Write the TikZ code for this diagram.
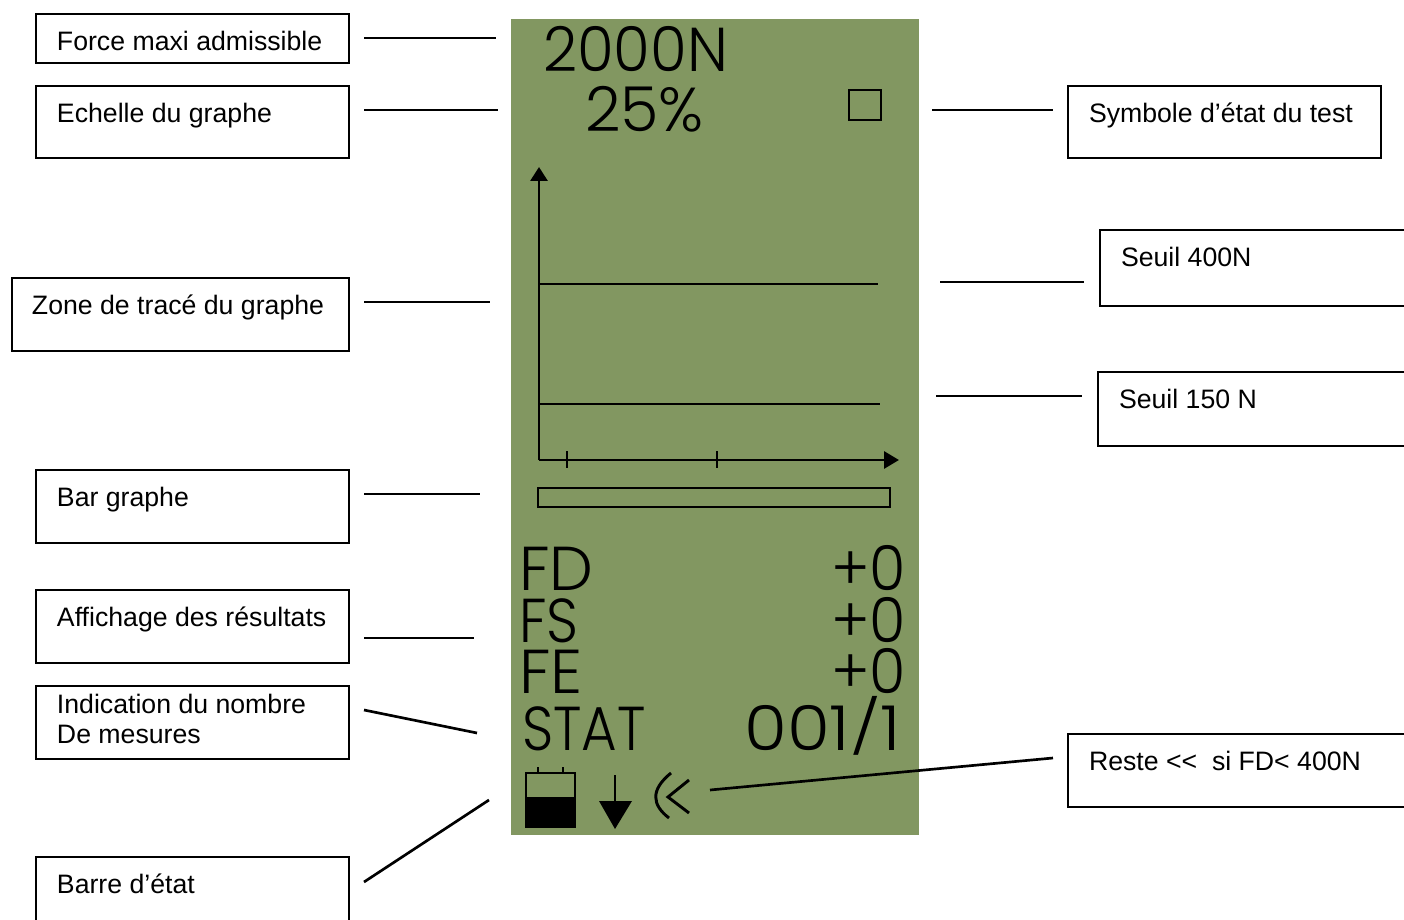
\documentclass[tikz,border=0pt]{standalone}
\usepackage{fontspec}
\setmainfont{Liberation Sans}
\newfontfamily\lcdfont{Poppins Light}
\usetikzlibrary{arrows.meta}
\definecolor{lcdgreen}{RGB}{130,151,97}
\newlength{\pxu}\setlength{\pxu}{0.75pt}
\tikzset{
  x=0.75pt,y=-0.75pt,
  infobox/.style={draw=black,line width=2pt,inner sep=0pt,outer sep=0pt,anchor=north west},
  leader/.style={draw=black,line width=2pt},
  lcdline/.style={draw=black,line width=2.2pt},
  lcdtext/.style={inner sep=0pt,outer sep=0pt,text=black},
}
\newcommand{\infobox}[6]{%
  \node[infobox] (#1) at (#2,#3) {\vbox to #5\pxu{\hsize=#4\pxu\baselineskip=30\pxu\lineskiplimit=-100pt
    \fontsize{20pt}{22.5pt}\selectfont
    #6\vfil}};}
\newcommand{\first}[2][36]{\hbox to \hsize{\hskip 21\pxu\rule{0pt}{#1\pxu}#2\hfil}}
\newcommand{\nextl}[1]{\hbox to \hsize{\hskip 21\pxu #1\hfil}}
\newcommand{\lcd}[6]{\node[lcdtext,anchor=#2] (#1) at (#3,#4) {\scalebox{#5}[1]{\lcdfont\fontsize{46.5pt}{46.5pt}\selectfont #6}};}
\begin{document}
\begin{tikzpicture}
\useasboundingbox (0,0) rectangle (1404,920);
\fill[lcdgreen] (511,19) rectangle (919,835);
% boxes
\infobox{force}{36}{14}{313}{49}{\first[37]{Force maxi admissible}}
\infobox{echelle}{36}{86}{313}{72}{\first[37]{Echelle du graphe}}
\infobox{zone}{12}{278}{337}{73}{\first{\kern-1\pxu Zone de tracé du graphe}}
\infobox{bar}{36}{470}{313}{73}{\first{Bar graphe}}
\infobox{affich}{36}{590}{313}{73}{\first{Affichage des résultats}}
\infobox{indic}{36}{686}{313}{73}{\first[27]{Indication du nombre}\nextl{De mesures}}
\infobox{barre}{36}{857}{313}{80}{\first{Barre d’état}}
\infobox{symb}{1068}{86}{313}{72}{\first[37]{Symbole d’état du test}}
\infobox{seuilA}{1100}{230}{330}{76}{\first{Seuil 400N}}
\infobox{seuilB}{1098}{372}{330}{74}{\first{Seuil 150 N}}
\infobox{reste}{1068}{734}{360}{73}{\first{Reste <{}<\ \ si FD< 400N}}
% leader ends
\coordinate (a1) at (364,38);  \coordinate (a2) at (496,38);
\coordinate (b1) at (364,110); \coordinate (b2) at (498,110);
\coordinate (c1) at (364,302); \coordinate (c2) at (490,302);
\coordinate (d1) at (364,494); \coordinate (d2) at (480,494);
\coordinate (e1) at (364,638); \coordinate (e2) at (474,638);
\coordinate (f1) at (364,710); \coordinate (f2) at (477,733);
\coordinate (g1) at (364,882); \coordinate (g2) at (489,800);
\coordinate (h1) at (932,110); \coordinate (h2) at (1053,110);
\coordinate (i1) at (940,282); \coordinate (i2) at (1084,282);
\coordinate (j1) at (936,396); \coordinate (j2) at (1082,396);
\coordinate (k1) at (710,790); \coordinate (k2) at (1053,758);
\foreach \p/\q in {a1/a2,b1/b2,c1/c2,d1/d2,e1/e2,f1/f2,g1/g2,h1/h2,i1/i2,j1/j2,k1/k2}
  \draw[leader] (\p) -- (\q);
% LCD text
\lcd{tforce}{base west}{543}{72}{.96}{2000N}
\lcd{tscale}{base west}{585}{132}{1}{25\%}
\lcd{tfd}{base west}{519}{590}{1}{FD}
\lcd{tfs}{base west}{519}{642}{.9}{FS}
\lcd{tfe}{base west}{519}{693}{1.03}{FE}
\lcd{tstat}{base west}{522}{750}{.88}{STAT}
\lcd{vfd}{base east}{906}{590}{.95}{+0}
\lcd{vfs}{base east}{906}{642}{.95}{+0}
\lcd{vfe}{base east}{906}{693}{.95}{+0}
\lcd{vstat}{base east}{901}{750}{1.12}{001\raisebox{3pt}{\scalebox{1}[.86]{/}}1}
% state square
\draw[lcdline] (849,90) rectangle (881,120);
% axes
\draw[line width=2.2pt,-{Triangle[width=12.75pt,length=10.5pt]}] (539,460) -- (539,167);
\draw[line width=2.2pt,-{Triangle[width=12.75pt,length=11.25pt]}] (539,460) -- (899,460);
\draw[lcdline] (567,451) -- (567,468);
\draw[lcdline] (717,451) -- (717,468);
\draw[lcdline] (539,284) -- (878,284);
\draw[lcdline] (539,404) -- (880,404);
% bar graph
\draw[lcdline] (538,488) rectangle (890,507);
% battery
\draw[lcdline] (526,773) rectangle (575,827);
\fill[black] (526,797) rectangle (575,827);
\draw[lcdline] (538,767) -- (538,773);
\draw[lcdline] (563,767) -- (563,773);
% down arrow
\draw[lcdline] (615,775) -- (615,805);
\fill[black] (599,801) -- (632,801) -- (615,829) -- cycle;
% chevrons
\draw[lcdline] (689,780) -- (668,797) -- (689,813);
\draw[lcdline] (671,773) .. controls (650,790) and (652,805) .. (669,818);
\end{tikzpicture}
\end{document}
